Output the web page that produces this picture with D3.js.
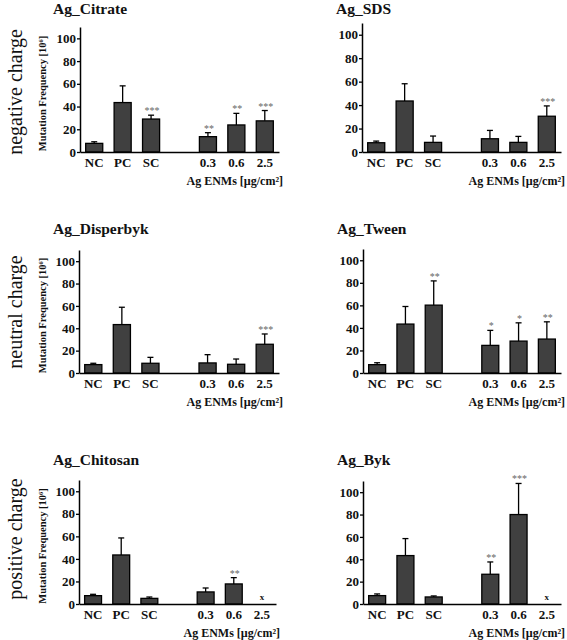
<!DOCTYPE html>
<html>
<head>
<meta charset="utf-8">
<script src="https://cdn.jsdelivr.net/npm/d3@7"></script>
<style>
  html, body { margin: 0; padding: 0; background: #fff; }
  svg { display: block; }
</style>
</head>
<body>
<svg id="chart" width="567" height="640" font-family="Liberation Serif, Times New Roman, serif"></svg>
<script>
// ---------- data ----------
const categories = ["NC", "PC", "SC", "0.3", "0.6", "2.5"];
const yTicks = [0, 20, 40, 60, 80, 100];
const rowLabels = ["negative charge", "neutral charge", "positive charge"];
const titles = ["Ag_Citrate", "Ag_SDS", "Ag_Disperbyk", "Ag_Tween", "Ag_Chitosan", "Ag_Byk"];

// bar heights (mean) and upper end of error bars (mean + SD); null = not tested
const citrateMean   = [7.6, 43.5, 29.0, 13.5, 23.8, 27.4];
const citrateUpper  = [9.0, 58.2, 32.4, 17.0, 34.0, 36.5];
const citrateSig    = ["", "", "***", "**", "**", "***"];

const sdsMean       = [7.9, 43.5, 8.2, 11.3, 8.2, 30.5];
const sdsUpper      = [9.3, 58.2, 13.6, 18.4, 13.3, 39.3];
const sdsSig        = ["", "", "", "", "", "***"];

const disperbykMean = [7.5, 43.3, 8.7, 9.0, 7.8, 25.7];
const disperbykUpper= [8.7, 58.8, 14.0, 16.4, 12.5, 34.9];
const disperbykSig  = ["", "", "", "", "", "***"];

const tweenMean     = [7.4, 43.4, 60.2, 24.5, 28.3, 30.1];
const tweenUpper    = [9.1, 59.0, 81.7, 37.8, 44.5, 45.4];
const tweenSig      = ["", "", "**", "*", "*", "**"];

const chitosanMean  = [7.4, 43.5, 5.0, 10.7, 17.8, null];
const chitosanUpper = [8.6, 58.6, 6.2, 14.2, 23.4, null];
const chitosanSig   = ["", "", "", "", "**", ""];

const bykMean       = [7.5, 43.3, 6.3, 26.6, 80.0, null];
const bykUpper      = [9.0, 58.5, 7.2, 37.6, 107.8, null];
const bykSig        = ["", "", "", "**", "***", ""];

const means  = [citrateMean, sdsMean, disperbykMean, tweenMean, chitosanMean, bykMean];
const uppers = [citrateUpper, sdsUpper, disperbykUpper, tweenUpper, chitosanUpper, bykUpper];
const sigs   = [citrateSig, sdsSig, disperbykSig, tweenSig, chitosanSig, bykSig];

// ---------- layout ----------
const FONT = "Liberation Serif";
const layout = [
  {x0: 80,  x1: 279, yTop: 27,  y0: 152, tx: 53,  ty: 14},
  {x0: 362, x1: 561, yTop: 23,  y0: 152, tx: 336, ty: 14},
  {x0: 79,  x1: 279, yTop: 250, y0: 373, tx: 53,  ty: 234},
  {x0: 363, x1: 561, yTop: 249, y0: 373, tx: 337, ty: 234},
  {x0: 79,  x1: 276, yTop: 480, y0: 604, tx: 53,  ty: 465},
  {x0: 363, x1: 561, yTop: 481, y0: 604, tx: 337, ty: 465}
];
const rowCenters = [92, 312, 539];

const svg = d3.select("#chart");
const slots = ["NC", "PC", "SC", "_gap", "0.3", "0.6", "2.5"];

rowLabels.forEach((lab, i) => {
  svg.append("text")
    .attr("transform", `translate(22,${rowCenters[i]}) rotate(-90)`)
    .attr("text-anchor", "middle")
    .attr("font-family", FONT)
    .attr("font-size", 20)
    .attr("fill", "#111")
    .text(lab);
});

titles.forEach((title, p) => {
  const L = layout[p];
  const g = svg.append("g");
  const x = d3.scaleBand().domain(slots).range([L.x0, L.x1]).paddingInner(0.4).paddingOuter(0.2);
  const y = d3.scaleLinear().domain([0, 110]).range([L.y0, L.yTop]);

  // title
  g.append("text").attr("x", L.tx).attr("y", L.ty)
    .attr("font-family", FONT).attr("font-size", 15.5).attr("font-weight", "bold").attr("fill", "#111")
    .text(title);

  // bars
  const rows = categories.map((c, i) => ({c, m: means[p][i], u: uppers[p][i], s: sigs[p][i]}));
  g.selectAll("rect.bar").data(rows.filter(d => d.m != null)).join("rect")
    .attr("x", d => x(d.c)).attr("width", x.bandwidth())
    .attr("y", d => y(d.m)).attr("height", d => y(0) - y(d.m))
    .attr("fill", "#404040").attr("stroke", "#000").attr("stroke-width", 1.3);

  // error bars
  const eb = rows.filter(d => d.m != null && d.u != null);
  g.selectAll("line.err").data(eb).join("line")
    .attr("x1", d => x(d.c) + x.bandwidth() / 2).attr("x2", d => x(d.c) + x.bandwidth() / 2)
    .attr("y1", d => y(d.m)).attr("y2", d => y(d.u))
    .attr("stroke", "#000").attr("stroke-width", 1.3);
  g.selectAll("line.cap").data(eb).join("line")
    .attr("x1", d => x(d.c) + x.bandwidth() / 2 - 3).attr("x2", d => x(d.c) + x.bandwidth() / 2 + 3)
    .attr("y1", d => y(d.u)).attr("y2", d => y(d.u))
    .attr("stroke", "#000").attr("stroke-width", 1.3);

  // significance stars
  g.selectAll("text.sig").data(eb.filter(d => d.s)).join("text")
    .attr("x", d => x(d.c) + x.bandwidth() / 2 + 1).attr("y", d => y(d.u) - 1)
    .attr("text-anchor", "middle").attr("font-family", FONT).attr("font-size", 10).attr("fill", "#666")
    .text(d => d.s);

  // "x" for not-tested concentration
  g.selectAll("text.na").data(rows.filter(d => d.m == null)).join("text")
    .attr("x", d => x(d.c) + x.bandwidth() / 2).attr("y", y(0) - 4)
    .attr("text-anchor", "middle").attr("font-family", FONT).attr("font-size", 9).attr("font-weight", "bold").attr("fill", "#111")
    .text("x");

  // y axis
  const ya = g.append("g").attr("transform", `translate(${L.x0},0)`)
    .call(d3.axisLeft(y).tickValues(yTicks).tickSize(3).tickSizeOuter(0));
  ya.attr("font-family", FONT);
  ya.select(".domain").attr("stroke", "#000").attr("stroke-width", 1.5);
  ya.selectAll(".tick line").attr("stroke", "#000").attr("stroke-width", 1.3);
  ya.selectAll(".tick text").attr("font-family", FONT).attr("font-size", 13)
    .attr("font-weight", "bold").attr("fill", "#111").attr("x", -4);

  // x axis
  const xa = g.append("g").attr("transform", `translate(0,${L.y0})`)
    .call(d3.axisBottom(x).tickValues(categories).tickSize(0).tickSizeOuter(0));
  xa.attr("font-family", FONT);
  xa.select(".domain").attr("stroke", "#000").attr("stroke-width", 1.5);
  xa.selectAll(".tick text").attr("font-family", FONT).attr("font-size", 13)
    .attr("font-weight", "bold").attr("fill", "#111").attr("dy", "0").attr("y", 15);

  // x axis title
  g.append("text").attr("x", L.x1 + 4).attr("y", L.y0 + 33)
    .attr("text-anchor", "end").attr("font-family", FONT).attr("font-size", 12).attr("font-weight", "bold").attr("fill", "#111")
    .text("Ag ENMs [µg/cm²]");

  // y axis title only on left panels
  if (p % 2 === 0) {
    g.append("text")
      .attr("transform", `translate(46,${(L.yTop + L.y0) / 2 + 4}) rotate(-90)`)
      .attr("text-anchor", "middle").attr("font-family", FONT).attr("font-size", 10.5).attr("font-weight", "bold").attr("fill", "#111")
      .text("Mutation Frequency [10⁶]");
  }
});
</script>
</body>
</html>
